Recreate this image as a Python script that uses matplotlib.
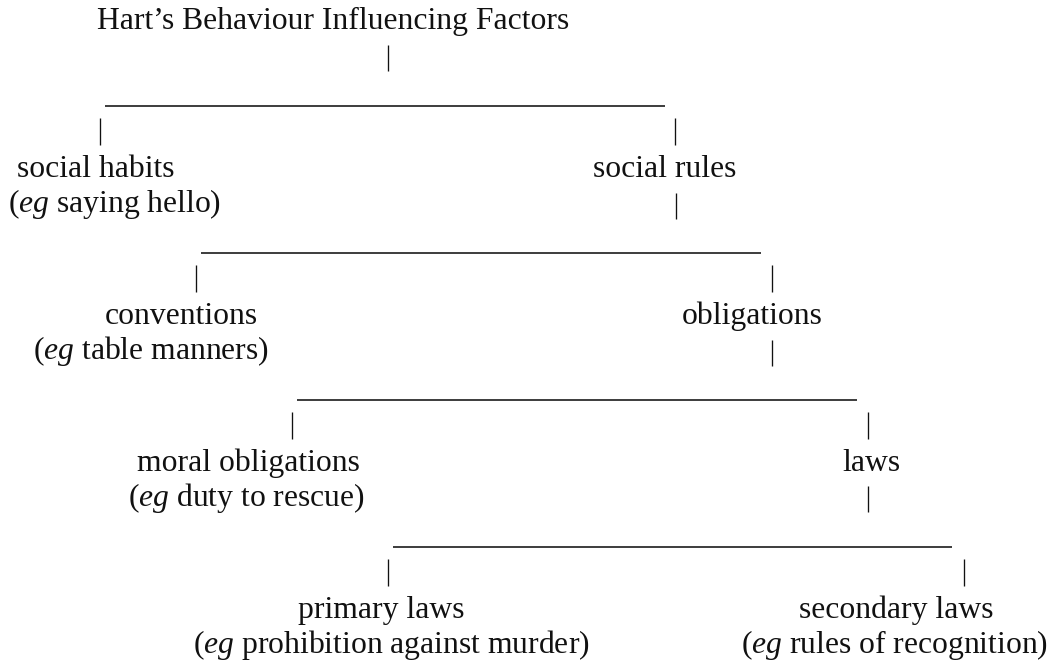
import matplotlib.pyplot as plt
from matplotlib import rcParams

# Times-like serif, italic "eg" through mathtext
rcParams['font.family'] = ['Liberation Serif', 'DejaVu Serif']
rcParams['mathtext.fontset'] = 'custom'
rcParams['mathtext.rm'] = 'Liberation Serif'
rcParams['mathtext.it'] = 'Liberation Serif:italic'

title = 'Hart\u2019s Behaviour Influencing Factors'

# tree nodes: label line and example line
labels = ['social habits', 'social rules', 'conventions', 'obligations',
          'moral obligations', 'laws', 'primary laws', 'secondary laws']
examples = ['saying hello', '', 'table manners', '',
            'duty to rescue', '', 'prohibition against murder', 'rules of recognition']

# pixel positions (left edge, baseline)
label_x = [17, 593, 105, 682, 137, 842, 298, 799]
example_x = [8, None, 33, None, 128, None, 193, 741]
level_y = [177, 324, 471, 618]

# connectors for each split: parent bar x, line from/to, child bar x
parent_x = [388, 676, 772, 868]
parent_top = [45, 193, 340, 486]
line_x0 = [105, 201, 297, 393]
line_x1 = [665, 761, 857, 952]
line_y = [106, 253, 400, 547]
left_x = [100, 196, 292, 388]
right_x = [675, 772, 868, 964]

fig = plt.figure(figsize=(10.49, 6.61), dpi=100)
ax = fig.add_axes([0, 0, 1, 1])
ax.set_xlim(0, 1049)
ax.set_ylim(661, 0)
ax.axis('off')

fs = 22.8
ink = '#111111'

ax.text(97, 29, title, fontsize=fs, color=ink, ha='left', va='baseline')

for i in range(4):
    ax.vlines(parent_x[i], parent_top[i], parent_top[i] + 26, color=ink, lw=0.95)
    ax.hlines(line_y[i], line_x0[i], line_x1[i], color=ink, lw=1.15)
    ax.vlines([left_x[i], right_x[i]], line_y[i] + 12, line_y[i] + 39, color=ink, lw=0.95)

for k, lab in enumerate(labels):
    y = level_y[k // 2]
    ax.text(label_x[k], y, lab, fontsize=fs, color=ink, ha='left', va='baseline')
    if examples[k]:
        ax.text(example_x[k], y + 35, '(' + r'$\mathit{eg}$' + ' ' + examples[k] + ')',
                fontsize=fs, color=ink, ha='left', va='baseline')

plt.savefig('out.png', dpi=100)
